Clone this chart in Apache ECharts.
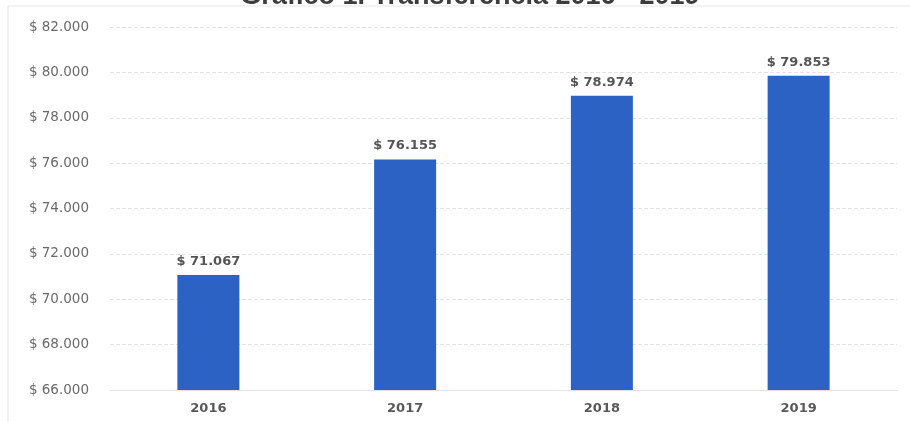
<!DOCTYPE html>
<html><head><meta charset="utf-8">
<script src="https://cdn.jsdelivr.net/npm/echarts@6/dist/echarts.min.js"></script>
<style>html,body{margin:0;padding:0;background:#fff}#c{width:910px;height:421px}</style>
</head><body><div id="c"></div>
<script>
const categories = ['2016','2017','2018','2019'];
const values = [71067, 76155, 78974, 79853];
const yMin = 66000, yMax = 82000, yStep = 2000;
const titleText = 'Gráfico 1. Transferencia 2016 - 2019';
function fmt(v){ return '$ ' + String(Math.round(v)).replace(/\B(?=(\d{3})+(?!\d))/g, '.'); }
const chart = echarts.init(document.getElementById('c'));
chart.setOption({
  backgroundColor:'#fff',
  animation:false,
  title:{text:titleText,left:465,textAlign:'center',top:-22,textStyle:{fontFamily:'Liberation Sans',fontSize:27,fontWeight:'bold',color:'#3d3d3d'}},
  graphic:[{type:'rect',shape:{x:8,y:6,width:920,height:440},style:{fill:'none',stroke:'#e6e6e6',lineWidth:1},silent:true}],
  grid:{left:110,right:13,top:27,bottom:31},
  xAxis:{type:'category',data:categories,
    axisLine:{show:true,lineStyle:{color:'#e3e3e3'}},axisTick:{show:false},
    axisLabel:{color:'#595959',fontFamily:'DejaVu Sans',fontSize:13,fontWeight:'bold',margin:12}},
  yAxis:{type:'value',min:yMin,max:yMax,interval:yStep,
    axisLine:{show:false},axisTick:{show:false},
    splitLine:{lineStyle:{color:'#e3e3e3',type:[4,2]}},
    axisLabel:{formatter:fmt,color:'#6a6a6a',fontFamily:'DejaVu Sans',fontSize:13.5,margin:21}},
  series:[{type:'bar',data:values,barWidth:62,
    itemStyle:{color:'#2b62c3'},
    label:{show:true,position:'top',formatter:p=>fmt(p.value),color:'#555',fontFamily:'DejaVu Sans',fontSize:13,fontWeight:'bold',distance:7}}]
});
</script></body></html>
